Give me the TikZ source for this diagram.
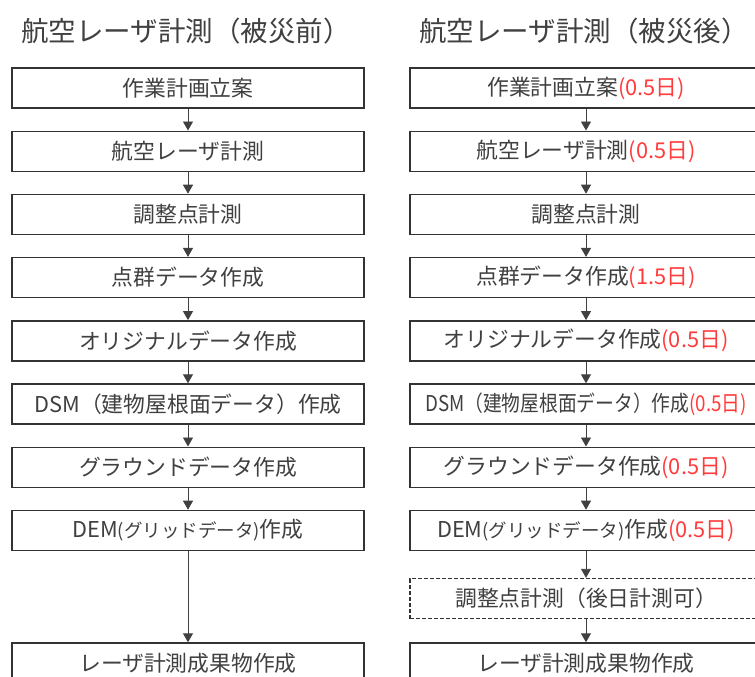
\documentclass[tikz,border=0pt]{standalone}
\usepackage{fontspec}
\setmainfont{Noto Sans CJK JP}
\usetikzlibrary{arrows.meta}
\definecolor{txt}{HTML}{404040}
\definecolor{redtxt}{HTML}{FF3B3B}
\newcommand\rdx[1]{\textcolor{redtxt}{#1}}
\newcommand\smkana[1]{{\fontsize{18.5}{20}\selectfont #1}}
\begin{document}
\begin{tikzpicture}[x=1pt,y=-1pt,
  stepbox/.style={draw=black!80,line width=1.4pt,minimum width=352pt,minimum height=40pt,inner sep=0pt,font=\fontsize{21.8}{24}\selectfont,text=txt},
  dashbox/.style={stepbox,dash pattern=on 4pt off 2pt},
  arr/.style={draw=black!75,line width=0.9pt,-{Triangle[width=10pt,length=9pt]}},
  ttl/.style={font=\fontsize{27.5}{30}\selectfont,text=txt,inner sep=0pt,anchor=west}]
\useasboundingbox (0,0) rectangle (755,677);
\clip (0,0) rectangle (755,677);
\fill[white] (0,0) rectangle (755,677);
% titles
\node[ttl] (tl) at (21,31) {航空レーザ計測（被災前）};
\node[ttl] (tr) at (419,31) {航空レーザ計測（被災後）};
% left column
\node[stepbox] (l1) at (188,88) {作業計画立案};
\node[stepbox] (l2) at (188,151.2) {航空レーザ計測};
\node[stepbox] (l3) at (188,214.4) {調整点計測};
\node[stepbox] (l4) at (188,277.6) {点群データ作成};
\node[stepbox] (l5) at (188,340.8) {オリジナルデータ作成};
\node[stepbox] (l6) at (188,404) {DSM（建物屋根面データ）作成};
\node[stepbox] (l7) at (188,467.2) {グラウンドデータ作成};
\node[stepbox] (l8) at (188,530.4) {DEM\smkana{(グリッドデータ)}作成};
\node[stepbox] (l9) at (188,663) {レーザ計測成果物作成};
% right column
\node[stepbox] (r1) at (586,88) {作業計画立案\rdx{(0.5日)}};
\node[stepbox] (r2) at (586,151.2) {航空レーザ計測\rdx{(0.5日)}};
\node[stepbox] (r3) at (586,214.4) {調整点計測};
\node[stepbox] (r4) at (586,277.6) {点群データ作成\rdx{(1.5日)}};
\node[stepbox] (r5) at (586,340.8) {オリジナルデータ作成\rdx{(0.5日)}};
\node[stepbox] (r6) at (586,404) {\scalebox{0.86}[1]{DSM（建物屋根面データ）作成\rdx{(0.5日)}}};
\node[stepbox] (r7) at (586,467.2) {グラウンドデータ作成\rdx{(0.5日)}};
\node[stepbox] (r8) at (586,530.4) {DEM\smkana{(グリッドデータ)}作成\rdx{(0.5日)}};
\node[dashbox] (r9) at (586,598.5) {調整点計測（後日計測可）};
\node[stepbox] (r10) at (586,663) {レーザ計測成果物作成};
% arrows
\foreach \a/\b in {l1/l2,l2/l3,l3/l4,l4/l5,l5/l6,l6/l7,l7/l8,l8/l9,
  r1/r2,r2/r3,r3/r4,r4/r5,r5/r6,r6/r7,r7/r8,r8/r9,r9/r10}
  \draw[arr] (\a.south) -- (\b.north);
\end{tikzpicture}
\end{document}
